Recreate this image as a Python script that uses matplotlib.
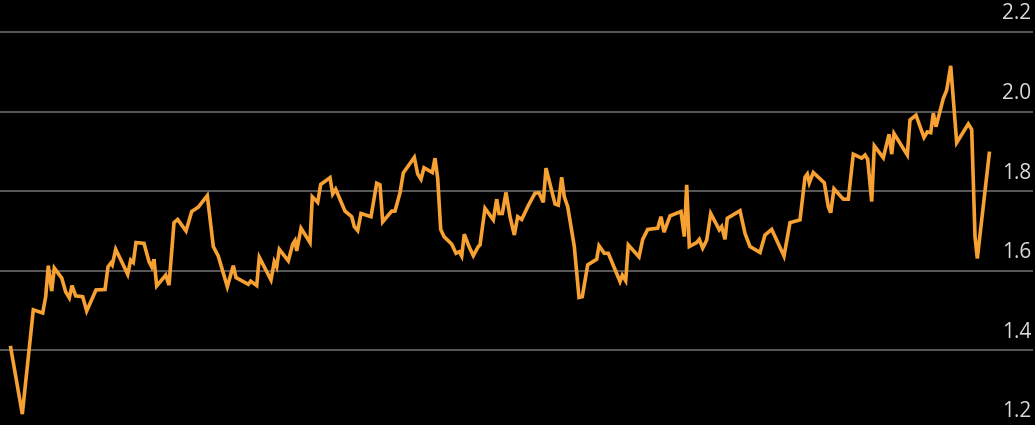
import matplotlib
matplotlib.use("Agg")
import matplotlib.pyplot as plt

# position along the time axis (trading days, rough) and values
t = [10.7, 22.3, 33.3, 42.7, 45.7, 48.3, 51.7, 54.3, 61.7, 65.7, 69.3, 72.0, 75.7,
     82.7, 86.7, 90.7, 96.0, 105.0, 108.0, 111.0, 112.3, 115.7, 121.7, 127.7, 130.7,
     133.3, 136.0, 144.0, 149.0, 151.7, 154.0, 156.7, 165.7, 169.0, 174.0, 177.7,
     186.0, 191.7, 198.3, 207.3, 213.3, 218.3, 227.3, 233.3, 236.0, 248.3, 250.7,
     256.7, 259.3, 271.0, 274.3, 276.7, 279.3, 288.3, 292.7, 295.0, 296.7, 301.0,
     310.0, 312.3, 317.7, 320.7, 330.0, 332.7, 335.7, 345.0,
     351.7, 354.3, 357.7, 361.0, 371.0, 376.7, 380.0, 382.7, 391.7, 395.0, 400.0,
     403.3, 414.3, 417.7, 421.0, 424.0, 432.3, 435.0, 437.7, 440.7, 444.0, 451.7,
     456.0, 459.3, 461.7, 464.3, 469.0, 473.3, 478.3, 480.0, 485.0, 493.3, 496.7,
     499.0, 502.3, 506.0, 510.0, 514.3, 517.7, 521.7, 528.3, 535.0, 539.0, 543.3,
     546.0, 555.0, 558.3, 561.7, 564.3, 567.7, 574.3, 579.0, 582.3, 587.7, 596.7,
     599.0, 604.3, 608.3, 620.0, 622.3, 625.7, 628.3, 639.0, 642.7, 647.7, 657.7,
     661.0, 664.0, 670.0, 681.0, 684.3, 686.7, 689.3,
     696.7, 699.3, 702.7, 706.7, 710.7, 719.3, 721.7, 725.0, 727.3, 740.0, 745.0,
     750.0, 760.0, 765.0, 771.7, 784.0, 790.0, 800.0, 805.0, 807.3, 809.3, 813.3,
     824.3, 828.3, 830.7, 834.0, 843.3, 848.3, 853.3, 861.7, 865.0, 867.7, 871.7,
     874.3, 883.3, 889.0, 891.7, 894.0, 907.3, 910.0, 916.0, 924.0, 927.3, 930.7,
     933.3, 936.0, 943.3, 946.7, 950.7, 956.7, 968.3, 971.7, 975.0, 977.3, 989.3]

values = [1.407, 1.240, 1.502, 1.494, 1.535, 1.613, 1.549, 1.607, 1.582, 1.547, 1.532,
          1.563, 1.537, 1.535, 1.499, 1.522, 1.552, 1.553, 1.610, 1.620, 1.615, 1.654,
          1.623, 1.591, 1.627, 1.621, 1.671, 1.669, 1.623, 1.610, 1.629, 1.562, 1.589,
          1.564, 1.721, 1.729, 1.700, 1.749, 1.760, 1.789, 1.661, 1.637, 1.560, 1.613,
          1.583, 1.566, 1.574, 1.563, 1.634, 1.577, 1.623, 1.610, 1.654, 1.625, 1.667,
          1.676, 1.650, 1.707, 1.671, 1.786, 1.772, 1.817, 1.834, 1.793, 1.805, 1.750,
          1.736, 1.711, 1.701, 1.744, 1.736, 1.820, 1.816, 1.723, 1.750, 1.750, 1.796,
          1.846, 1.885, 1.843, 1.830, 1.859, 1.847, 1.883, 1.832, 1.704, 1.686, 1.667,
          1.644, 1.648, 1.637, 1.692, 1.661, 1.638, 1.661, 1.665, 1.757, 1.728, 1.780,
          1.744, 1.744, 1.797, 1.736, 1.690, 1.736, 1.729, 1.764, 1.795, 1.796, 1.772,
          1.858, 1.768, 1.765, 1.835, 1.786, 1.761, 1.661, 1.533, 1.535, 1.615, 1.629,
          1.663, 1.644, 1.644, 1.573, 1.589, 1.575, 1.665, 1.635, 1.679, 1.704, 1.707,
          1.736, 1.697, 1.738, 1.749, 1.686, 1.816, 1.661,
          1.671, 1.679, 1.657, 1.677, 1.744, 1.703, 1.711, 1.679, 1.732, 1.751, 1.694,
          1.661, 1.646, 1.690, 1.704, 1.637, 1.721, 1.728, 1.835, 1.843, 1.821, 1.847,
          1.821, 1.761, 1.746, 1.806, 1.780, 1.780, 1.893, 1.883, 1.891, 1.880, 1.774,
          1.914, 1.884, 1.943, 1.893, 1.945, 1.891, 1.979, 1.991, 1.935, 1.949, 1.947,
          1.996, 1.962, 2.033, 2.054, 2.115, 1.922, 1.969, 1.955, 1.686, 1.631, 1.895]

grid_levels = [1.4, 1.6, 1.8, 2.0, 2.2]
tick_labels = [1.2, 1.4, 1.6, 1.8, 2.0, 2.2]

fig = plt.figure(figsize=(10.35, 4.25), dpi=100, facecolor="black")
ax = fig.add_axes([0, 0, 1, 1], facecolor="black")

for lv in grid_levels:
    ax.axhline(lv, xmin=0, xmax=1032 / 1035, color="#5a5a5a", lw=1.4, zorder=1)

ax.plot(t, values, color="#f7a133", lw=2.6, solid_joinstyle="miter", zorder=3)

for lv in tick_labels:
    ax.text(1031, lv + 0.019, f"{lv:.1f}", ha="right", va="bottom",
            color="#dadada", fontsize=15, family="Open Sans", zorder=4)

ax.set_xlim(0, 1035)
ax.set_ylim(1.2126, 2.2804)
ax.axis("off")

fig.savefig("out.png", dpi=100, facecolor="black")
